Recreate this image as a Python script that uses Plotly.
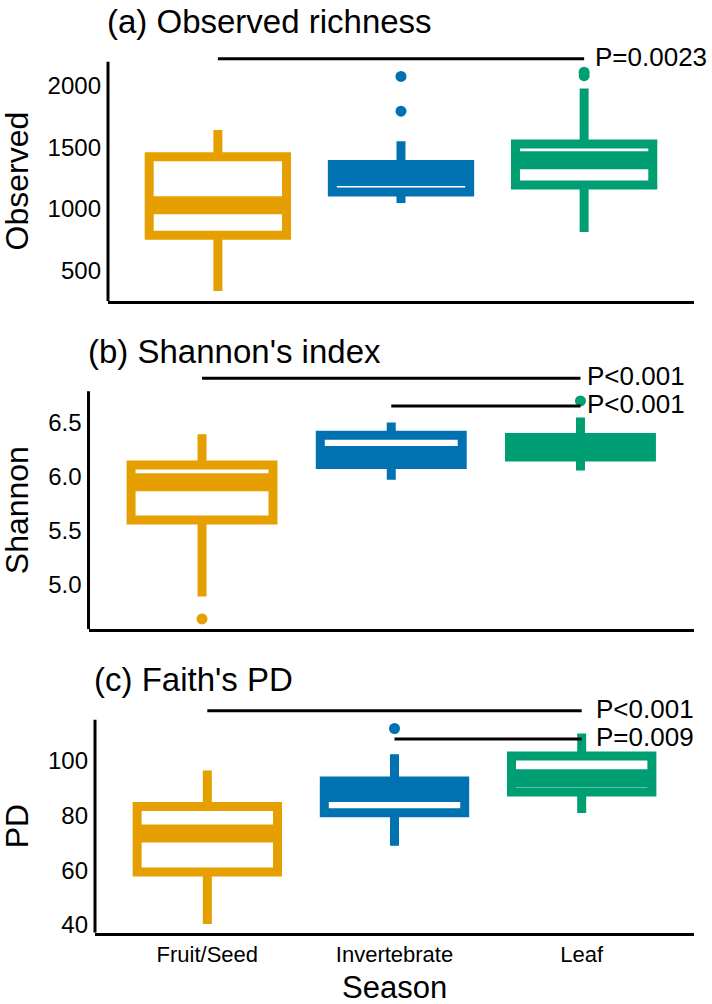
import plotly.graph_objects as go

W, H = 712, 1004

categories = ['Fruit/Seed', 'Invertebrate', 'Leaf']
colors = ['#E69F00', '#0072B2', '#009E73']

# (a) Observed richness
obs_q1 = [786, 1135, 1192]
obs_median = [1028, 1258, 1393]
obs_q3 = [1423, 1359, 1526]
obs_lower = [333, 1046, 812]
obs_upper = [1639, 1548, 1975]
obs_out_x = ['Invertebrate', 'Invertebrate', 'Leaf', 'Leaf']
obs_out_y = [2074, 1792, 2108, 2080]
obs_sig = [('Fruit/Seed', 'Leaf', 2217, 'P=0.0023')]

# (b) Shannon's index
sha_q1 = [5.598, 6.113, 6.181]
sha_median = [5.949, 6.200, 6.280]
sha_q3 = [6.108, 6.383, 6.361]
sha_lower = [4.892, 5.971, 6.057]
sha_upper = [6.393, 6.501, 6.547]
sha_out_x = ['Fruit/Seed', 'Leaf']
sha_out_y = [4.684, 6.700]
sha_sig = [('Fruit/Seed', 'Leaf', 6.91, 'P<0.001'),
           ('Invertebrate', 'Leaf', 6.654, 'P<0.001')]

# (c) Faith's PD
pd_q1 = [59.4, 81.1, 88.7]
pd_median = [73.5, 88.3, 93.7]
pd_q3 = [83.4, 92.7, 101.8]
pd_lower = [40.4, 69.0, 81.0]
pd_upper = [96.5, 102.5, 110.1]
pd_out_x = ['Invertebrate']
pd_out_y = [111.9]
pd_sig = [('Fruit/Seed', 'Leaf', 118.4, 'P<0.001'),
          ('Invertebrate', 'Leaf', 108.1, 'P=0.009')]

FONT = 'Liberation Sans, Arial, sans-serif'

fig = go.Figure()
annotations = []
shapes = []


def add_panel(idx, title, ytitle, q1, med, q3, lo, hi, out_x, out_y, sig,
              xpx, ypx, yrange, axis_top, tickvals, ticktext,
              text_shift=8, show_x_labels=False):
    """
    Adds one box-plot panel; xpx / ypx are the panel extents in pixels.
    """
    sfx = '' if idx == 1 else str(idx)
    xa, ya = 'x' + sfx, 'y' + sfx

    for i, cat in enumerate(categories):
        # main box: thick outline, white fill
        fig.add_trace(go.Box(
            x=[cat], q1=[q1[i]], median=[med[i]], q3=[q3[i]],
            lowerfence=[lo[i]], upperfence=[hi[i]],
            width=0.75, whiskerwidth=0, boxpoints=False,
            line=dict(color=colors[i], width=9), fillcolor='white',
            xaxis=xa, yaxis=ya, showlegend=False, hoverinfo='skip'
        ))
        # fat median band
        fig.add_trace(go.Box(
            x=[cat], q1=[med[i]], median=[med[i]], q3=[med[i]],
            lowerfence=[med[i]], upperfence=[med[i]],
            width=0.75, whiskerwidth=0, boxpoints=False,
            line=dict(color=colors[i], width=18), fillcolor=colors[i],
            xaxis=xa, yaxis=ya, showlegend=False, hoverinfo='skip'
        ))

    # outliers
    out_colors = [colors[categories.index(c)] for c in out_x]
    fig.add_trace(go.Scatter(
        x=out_x, y=out_y, mode='markers',
        marker=dict(color=out_colors, size=11),
        xaxis=xa, yaxis=ya, showlegend=False, cliponaxis=False
    ))

    # significance bars
    for a, b, yv, label in sig:
        fig.add_trace(go.Scatter(
            x=[a, b], y=[yv, yv], mode='lines',
            line=dict(color='black', width=3),
            xaxis=xa, yaxis=ya, showlegend=False
        ))
        annotations.append(dict(
            x=b, y=yv, xref=xa, yref=ya, text=label, showarrow=False,
            xanchor='left', yanchor='middle', xshift=text_shift, yshift=2,
            font=dict(family=FONT, size=26, color='black')
        ))

    # y axis line (stops below the significance bars)
    shapes.append(dict(
        type='line', xref=xa + ' domain', yref=ya,
        x0=0, x1=0, y0=yrange[0], y1=axis_top,
        line=dict(color='black', width=3)
    ))

    fig.update_layout(**{
        'xaxis' + sfx: dict(
            domain=[xpx[0] / W, xpx[1] / W], anchor=ya,
            type='category', categoryorder='array', categoryarray=categories,
            range=[-0.6, 2.6], showline=True, linecolor='black', linewidth=3,
            showgrid=False, zeroline=False, ticks='', ticklen=0,
            showticklabels=show_x_labels, ticklabelstandoff=0,
            tickfont=dict(family=FONT, size=22, color='black')
        ),
        'yaxis' + sfx: dict(
            domain=[1 - ypx[1] / H, 1 - ypx[0] / H], anchor=xa,
            range=yrange, showline=False, showgrid=False, zeroline=False,
            ticks='', ticklen=0, tickvals=tickvals, ticktext=ticktext,
            ticklabelstandoff=6,
            tickfont=dict(family=FONT, size=24, color='black')
        )
    })

    top_px = ypx[1] - (axis_top - yrange[0]) / (yrange[1] - yrange[0]) * (ypx[1] - ypx[0])
    annotations.append(dict(
        x=(xpx[0] - 3) / W, y=1 - (top_px - 40) / H, xref='paper', yref='paper',
        text=title, showarrow=False, xanchor='left', yanchor='middle',
        font=dict(family=FONT, size=33, color='black')
    ))
    annotations.append(dict(
        x=17 / W, y=1 - (top_px + ypx[1]) / 2 / H, xref='paper', yref='paper',
        text=ytitle, showarrow=False, textangle=-90,
        xanchor='center', yanchor='middle',
        font=dict(family=FONT, size=32, color='black')
    ))


add_panel(1, '(a) Observed richness', 'Observed',
          obs_q1, obs_median, obs_q3, obs_lower, obs_upper,
          obs_out_x, obs_out_y, obs_sig,
          xpx=(108, 694), ypx=(53.8, 303), yrange=[250, 2260], axis_top=2193,
          tickvals=[500, 1000, 1500, 2000], ticktext=['500', '1000', '1500', '2000'],
          text_shift=9)

add_panel(2, "(b) Shannon's index", 'Shannon',
          sha_q1, sha_median, sha_q3, sha_lower, sha_upper,
          sha_out_x, sha_out_y, sha_sig,
          xpx=(88.5, 694), ypx=(372.9, 633), yrange=[4.589, 6.98], axis_top=6.79,
          tickvals=[5.0, 5.5, 6.0, 6.5], ticktext=['5.0', '5.5', '6.0', '6.5'],
          text_shift=5)

add_panel(3, "(c) Faith's PD", 'PD',
          pd_q1, pd_median, pd_q3, pd_lower, pd_upper,
          pd_out_x, pd_out_y, pd_sig,
          xpx=(95, 694), ypx=(710.6, 938.3), yrange=[37.2, 120], axis_top=115.1,
          tickvals=[40, 60, 80, 100], ticktext=['40', '60', '80', '100'],
          text_shift=12, show_x_labels=True)

annotations.append(dict(
    x=394.5 / W, y=0, xref='paper', yref='paper', text='Season',
    showarrow=False, xanchor='center', yanchor='bottom', yshift=-9,
    font=dict(family=FONT, size=31, color='black')
))

fig.update_layout(
    width=W, height=H, autosize=False,
    margin=dict(l=0, r=0, t=0, b=0),
    paper_bgcolor='white', plot_bgcolor='white',
    boxmode='overlay', showlegend=False,
    annotations=annotations, shapes=shapes,
    font=dict(family=FONT, color='black')
)

# drop the default page margin so the figure sits at the window corner
fig.write_html('out.html', config={'displayModeBar': False},
               post_script="document.body.style.margin='0';")
